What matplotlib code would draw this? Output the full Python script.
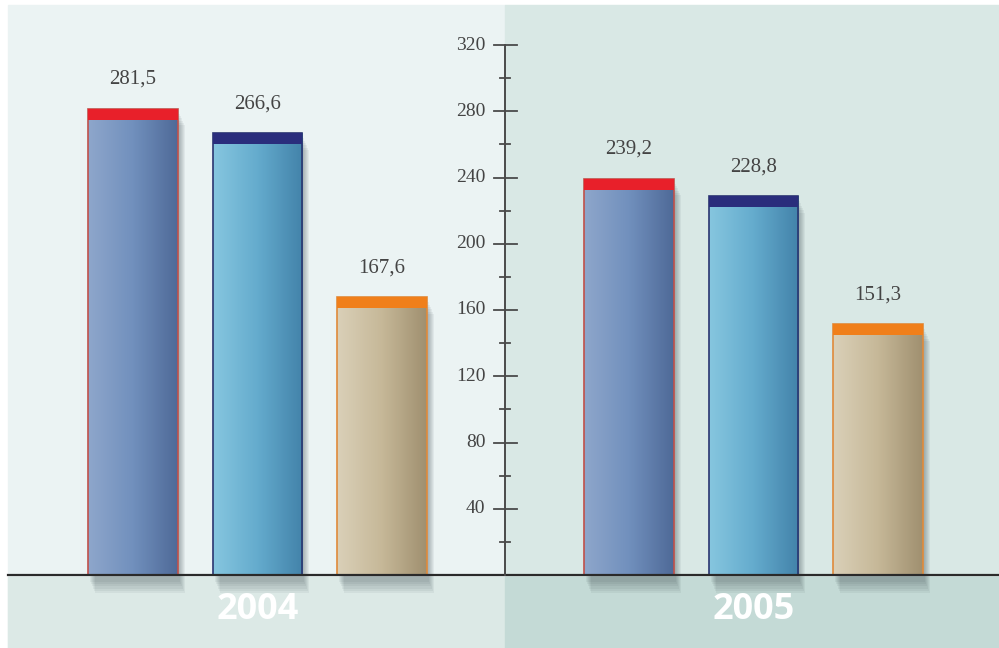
import numpy as np
import matplotlib.pyplot as plt
from matplotlib.patches import Rectangle
from matplotlib.colors import LinearSegmentedColormap

years = ["2004", "2005"]
series = ["a", "b", "c"]
values = {
    "2004": [281.5, 266.6, 167.6],
    "2005": [239.2, 228.8, 151.3],
}
value_labels = {
    "2004": ["281,5", "266,6", "167,6"],
    "2005": ["239,2", "228,8", "151,3"],
}
yticks = [40, 80, 120, 160, 200, 240, 280, 320]

# bar looks: body gradient (light, mid, dark), cap colour, edge colour
bodies = [["#8ea6cb", "#7190bd", "#4f6a98"],
          ["#86c6df", "#64abcd", "#4383aa"],
          ["#dad0b8", "#c6b898", "#a09070"]]
caps = ["#e8202a", "#2a2d7c", "#f07f1a"]
edges = ["#c0504a", "#2a3570", "#e08a3a"]

W, H = 999, 648
fig = plt.figure(figsize=(W / 100, H / 100), dpi=100)
ax = fig.add_axes([0, 0, 1, 1])

px_unit = 1.65625          # pixels per value unit
base_px = 575
gcenter0, gspace = 257.5, 496.0
ax.set_xlim((0 - gcenter0) / gspace, (W - gcenter0) / gspace)
ax.set_ylim((base_px - H) / px_unit, base_px / px_unit)
ax.axis("off")

# backgrounds
ylo, yhi = ax.get_ylim()
ax.add_patch(Rectangle((-0.503, ylo), 1.003, yhi - ylo - 3, color="#ebf3f3", zorder=0))
ax.add_patch(Rectangle((0.5, ylo), 1.0, yhi - ylo - 3, color="#d9e8e5", zorder=0))
ax.add_patch(Rectangle((-0.503, ylo), 1.003, -1 - ylo, color="#dce9e6", zorder=1))
ax.add_patch(Rectangle((0.5, ylo), 1.0, -1 - ylo, color="#c4dad6", zorder=1))

bw = 0.181
step = 0.251
cap_h = 6.5
for gi, yr in enumerate(years):
    for si in range(len(series)):
        v = values[yr][si]
        x0 = gi + (si - 1) * step - bw / 2
        # soft shadow
        for k in range(6):
            off = 0.004 + k * 0.002
            ax.add_patch(Rectangle((x0 + off, -4 - k * 1.4), bw, v + 1,
                                   color="#1a2a30", alpha=0.055, lw=0, zorder=2))
        cm = LinearSegmentedColormap.from_list("b", bodies[si])
        grad = np.linspace(0, 1, 64).reshape(1, -1)
        clip = Rectangle((x0, 0), bw, v, transform=ax.transData)
        im = ax.imshow(grad, cmap=cm, extent=(x0, x0 + bw, 0, v), aspect="auto",
                       zorder=3, interpolation="bilinear")
        im.set_clip_path(clip)
        ax.add_patch(Rectangle((x0, 0), bw, v, fill=False, ec=edges[si], lw=1.2, zorder=4))
        ax.add_patch(Rectangle((x0, v - cap_h), bw, cap_h, color=caps[si], lw=0, zorder=5))
        ax.text(x0 + bw / 2, v + 12, value_labels[yr][si], ha="center", va="bottom",
                fontsize=15, color="#444444", family="Liberation Serif", zorder=6)
    ax.text(gi, -21, yr, ha="center", va="center", fontsize=26, fontweight="bold",
            color="white", family=["Liberation Sans Narrow", "Open Sans"], zorder=6)

# baseline and vertical axis
ax.plot([-0.503, 1.5], [0, 0], color="#2a2a2a", lw=1.6, zorder=7)
ax.plot([0.5, 0.5], [0, 320], color="#4a4a4a", lw=1.4, zorder=7)
tx = 1.0 / gspace
for t in yticks:
    ax.plot([0.5 - 11 * tx, 0.5 + 11 * tx], [t, t], color="#4a4a4a", lw=1.3, zorder=7)
    ax.text(0.5 - 20 * tx, t, str(t), ha="right", va="center", fontsize=14,
            color="#444444", family="Liberation Serif", zorder=7)
for t in range(20, 320, 40):
    ax.plot([0.5 - 5 * tx, 0.5 + 5 * tx], [t, t], color="#4a4a4a", lw=1.3, zorder=7)

fig.savefig("out.png", dpi=100, facecolor="white")
